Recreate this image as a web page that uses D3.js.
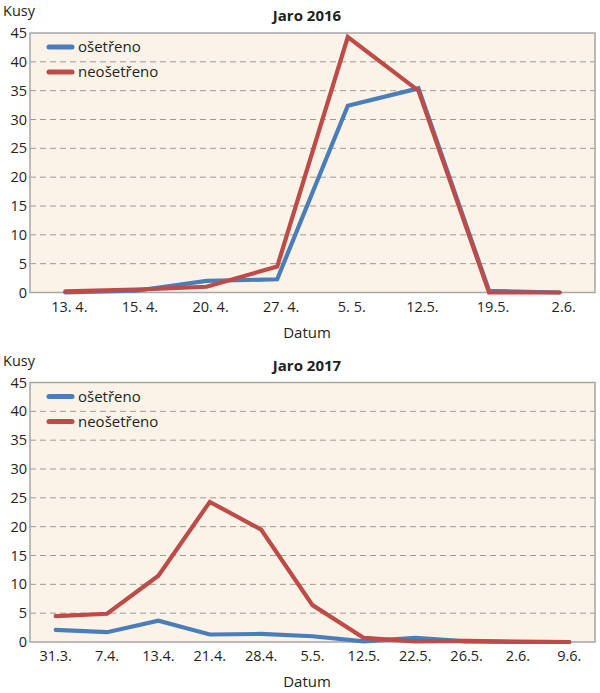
<!DOCTYPE html>
<html lang="cs">
<head>
<meta charset="UTF-8">
<title>Jaro 2016 / 2017</title>
<script src="https://d3js.org/d3.v7.min.js"></script>
<style>
  body { margin: 0; background: #fff; }
  svg { display: block; font-family: "Open Sans", sans-serif; }
</style>
</head>
<body>
<svg id="graf" width="600" height="693"></svg>
<script>
// data – jaro 2016
const datum2016 = ["13. 4.", "15. 4.", "20. 4.", "27. 4.", "5. 5.", "12.5.", "19.5.", "2.6."];
const osetreno2016 = [0, 0.3, 2.0, 2.3, 32.4, 35.4, 0.3, 0];
const neosetreno2016 = [0.2, 0.5, 1.0, 4.5, 44.3, 35.0, 0, 0];

// data – jaro 2017
const datum2017 = ["31.3.", "7.4.", "13.4.", "21.4.", "28.4.", "5.5.", "12.5.", "22.5.", "26.5.", "2.6.", "9.6."];
const osetreno2017 = [2.1, 1.7, 3.7, 1.3, 1.4, 1.0, 0.1, 0.7, 0.1, 0, 0];
const neosetreno2017 = [4.5, 4.9, 11.5, 24.3, 19.5, 6.4, 0.7, 0.1, 0.2, 0.05, 0];

const yTicks = [0, 5, 10, 15, 20, 25, 30, 35, 40, 45];
const serie = ["ošetřeno", "neošetřeno"];
const barvy = ["#4a7ebb", "#be4b48"];

const svg = d3.select("#graf");
const vlevo = 30, vpravo = 595, vyska = 259.5;

function graf(top, nadpis, kategorie, hodnoty, dxPopisku) {
  const g = svg.append("g").attr("transform", `translate(0,${top})`);

  const x = d3.scaleBand().domain(kategorie).range([vlevo, vpravo]);
  const y = d3.scaleLinear().domain([0, 45]).range([vyska, 0]);

  // pozadí
  g.append("rect")
    .attr("x", vlevo).attr("y", 0)
    .attr("width", vpravo - vlevo).attr("height", vyska)
    .attr("fill", "#fcf3e8");

  // mřížka
  g.selectAll("line.mriz")
    .data(yTicks.filter(d => d > 0 && d < 45))
    .join("line")
    .attr("class", "mriz")
    .attr("x1", vlevo).attr("x2", vpravo)
    .attr("y1", d => y(d)).attr("y2", d => y(d))
    .attr("stroke", "#a09a94")
    .attr("stroke-width", 1)
    .attr("stroke-dasharray", "6,4");

  g.append("rect")
    .attr("x", vlevo).attr("y", 0)
    .attr("width", vpravo - vlevo).attr("height", vyska)
    .attr("fill", "none")
    .attr("stroke", "#a6a6a6")
    .attr("stroke-width", 1.5);

  // osa y
  const osaY = g.append("g")
    .attr("transform", `translate(${vlevo},0)`)
    .call(d3.axisLeft(y).tickValues(yTicks).tickSize(0).tickPadding(3));
  osaY.select(".domain").remove();
  osaY.selectAll("text")
    .attr("font-size", 14.5).attr("font-family", "Open Sans").attr("fill", "#231f20");

  // osa x
  const osaX = g.append("g")
    .attr("transform", `translate(0,${vyska})`)
    .call(d3.axisBottom(x).tickSize(0).tickPadding(9));
  osaX.select(".domain").remove();
  osaX.selectAll("text")
    .attr("dx", dxPopisku)
    .attr("font-size", 14.5).attr("font-family", "Open Sans").attr("fill", "#231f20");

  // čáry
  const cara = d3.line()
    .x((d, i) => x(kategorie[i]) + x.bandwidth() / 2)
    .y(d => y(d));

  hodnoty.forEach((h, i) => {
    g.append("path")
      .datum(h)
      .attr("d", cara)
      .attr("fill", "none")
      .attr("stroke", barvy[i])
      .attr("stroke-width", 4.2)
      .attr("stroke-linejoin", "miter")
      .attr("stroke-linecap", "round");
  });

  // legenda
  serie.forEach((s, i) => {
    const ly = 14 + i * 25;
    g.append("line")
      .attr("x1", 49).attr("x2", 72)
      .attr("y1", ly).attr("y2", ly)
      .attr("stroke", barvy[i])
      .attr("stroke-width", 5)
      .attr("stroke-linecap", "round");
    g.append("text")
      .attr("x", 78).attr("y", ly + 5)
      .attr("font-size", 15)
      .attr("fill", "#231f20")
      .text(s);
  });

  // popisky
  g.append("text")
    .attr("x", 307).attr("y", -12)
    .attr("text-anchor", "middle")
    .attr("font-size", 15).attr("font-weight", "bold")
    .attr("fill", "#231f20")
    .text(nadpis);

  g.append("text")
    .attr("x", 3).attr("y", -17)
    .attr("font-size", 14.5)
    .attr("fill", "#231f20")
    .text("Kusy");

  g.append("text")
    .attr("x", 307).attr("y", vyska + 45)
    .attr("text-anchor", "middle")
    .attr("font-size", 15)
    .attr("fill", "#231f20")
    .text("Datum");
}

graf(33, "Jaro 2016", datum2016, [osetreno2016, neosetreno2016], 4);
graf(382.5, "Jaro 2017", datum2017, [osetreno2017, neosetreno2017], 0);
</script>
</body>
</html>
